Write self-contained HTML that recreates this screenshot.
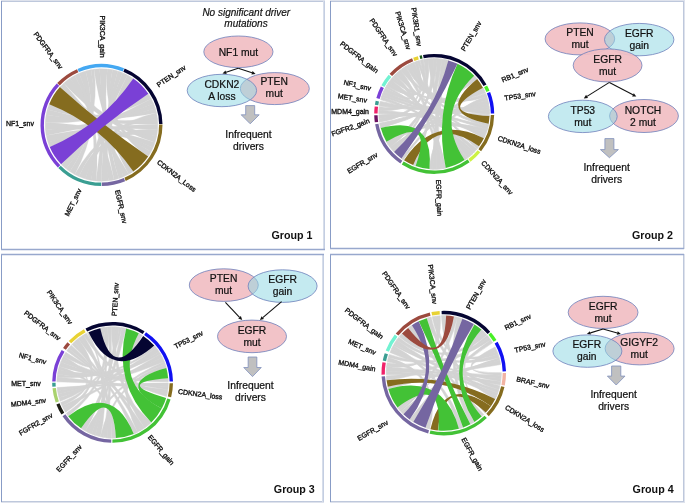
<!DOCTYPE html><html><head><meta charset="utf-8"><style>html,body{margin:0;padding:0;background:#fff;}body{width:685px;height:503px;overflow:hidden;}svg{display:block;font-family:"Liberation Sans",sans-serif;filter:blur(0.3px);}</style></head><body>
<svg width="685" height="503" viewBox="0 0 685 503">
<rect x="0" y="0" width="685" height="503" fill="#fff"/>
<rect x="1" y="0" width="324" height="1" fill="rgb(222,226,236)"/>
<rect x="1" y="1" width="324" height="1" fill="rgb(190,200,220)"/>
<rect x="330" y="0" width="355" height="1" fill="rgb(222,226,236)"/>
<rect x="330" y="1" width="355" height="1" fill="rgb(190,200,220)"/>
<rect x="1" y="501" width="323" height="1" fill="rgb(190,200,220)"/>
<rect x="1" y="502" width="323" height="1" fill="rgb(222,226,236)"/>
<rect x="330" y="501" width="355" height="1" fill="rgb(190,200,220)"/>
<rect x="330" y="502" width="355" height="1" fill="rgb(222,226,236)"/>
<rect x="1" y="1" width="1" height="249" fill="rgb(136,156,198)"/>
<rect x="1" y="254" width="1" height="248" fill="rgb(136,156,198)"/>
<rect x="330" y="1" width="1" height="248" fill="rgb(136,156,198)"/>
<rect x="330" y="254" width="1" height="248" fill="rgb(136,156,198)"/>
<rect x="683" y="1" width="1" height="248" fill="rgb(190,200,220)"/>
<rect x="684" y="0" width="1" height="249" fill="rgb(222,226,236)"/>
<rect x="683" y="254" width="1" height="248" fill="rgb(190,200,220)"/>
<rect x="684" y="254" width="1" height="249" fill="rgb(222,226,236)"/>
<rect x="323" y="1" width="1" height="249" fill="rgb(214,221,234)"/>
<rect x="324" y="1" width="1" height="249" fill="rgb(196,206,226)"/>
<rect x="322" y="254" width="1" height="248" fill="rgb(214,221,234)"/>
<rect x="323" y="254" width="1" height="248" fill="rgb(196,206,226)"/>
<line x1="1" y1="249.45" x2="325" y2="249.45" stroke="rgb(152,168,205)" stroke-width="1.4"/>
<line x1="330" y1="248.5" x2="684" y2="248.5" stroke="rgb(152,168,205)" stroke-width="1.4"/>
<line x1="1" y1="254.45" x2="324" y2="254.45" stroke="rgb(152,168,205)" stroke-width="1.4"/>
<line x1="330" y1="254.45" x2="684" y2="254.45" stroke="rgb(152,168,205)" stroke-width="1.4"/>
<g fill="#000">
<g stroke="#d3d3d3" stroke-width="0.3">
<path d="M79.14 73.33A56.3 56.3 0 0 1 85.57 71Q101.5 125 69.84 171.55A56.3 56.3 0 0 1 66.09 168.77Q101.5 125 79.14 73.33Z" fill="#d3d3d3"/>
<path d="M60.39 86.53A56.3 56.3 0 0 1 63.86 83.13Q101.5 125 128.71 174.29A56.3 56.3 0 0 1 123.59 176.79Q101.5 125 60.39 86.53Z" fill="#d3d3d3"/>
<path d="M153.04 147.66A56.3 56.3 0 0 1 151.05 151.73Q101.5 125 59.86 87.11A56.3 56.3 0 0 1 60.39 86.53Q101.5 125 153.04 147.66Z" fill="#d3d3d3"/>
<path d="M94.02 69.2A56.3 56.3 0 0 1 99.66 68.73Q101.5 125 133.31 171.45A56.3 56.3 0 0 1 128.71 174.29Q101.5 125 94.02 69.2Z" fill="#d3d3d3"/>
<path d="M85.57 71A56.3 56.3 0 0 1 90.97 69.69Q101.5 125 74.68 174.5A56.3 56.3 0 0 1 69.84 171.55Q101.5 125 85.57 71Z" fill="#d3d3d3"/>
<path d="M45.42 129.97A56.3 56.3 0 0 1 45.25 122.51Q101.5 125 155.02 142.47A56.3 56.3 0 0 1 153.04 147.66Q101.5 125 45.42 129.97Z" fill="#d3d3d3"/>
<path d="M90.97 69.69A56.3 56.3 0 0 1 94.02 69.2Q101.5 125 66.09 168.77A56.3 56.3 0 0 1 61.41 164.53Q101.5 125 90.97 69.69Z" fill="#d3d3d3"/>
<path d="M112.55 69.8A56.3 56.3 0 0 1 117.78 71.1Q101.5 125 123.59 176.79A56.3 56.3 0 0 1 118.89 178.55Q101.5 125 112.55 69.8Z" fill="#d3d3d3"/>
<path d="M157.8 124.31A56.3 56.3 0 0 1 157.6 129.69Q101.5 125 48.02 142.61A56.3 56.3 0 0 1 46.21 135.61Q101.5 125 157.8 124.31Z" fill="#d3d3d3"/>
<path d="M155.35 108.56A56.3 56.3 0 0 1 156.44 112.68Q101.5 125 47.34 109.62A56.3 56.3 0 0 1 49.19 104.18Q101.5 125 155.35 108.56Z" fill="#d3d3d3"/>
<path d="M114.06 179.88A56.3 56.3 0 0 1 108.5 180.86Q101.5 125 70.02 78.32A56.3 56.3 0 0 1 74.72 75.48Q101.5 125 114.06 179.88Z" fill="#d3d3d3"/>
<path d="M153.55 103.54A56.3 56.3 0 0 1 155.35 108.56Q101.5 125 46.21 135.61A56.3 56.3 0 0 1 45.42 129.97Q101.5 125 153.55 103.54Z" fill="#d3d3d3"/>
<path d="M99.66 68.73A56.3 56.3 0 0 1 107.31 69Q101.5 125 118.89 178.55A56.3 56.3 0 0 1 114.06 179.88Q101.5 125 99.66 68.73Z" fill="#d3d3d3"/>
<path d="M127.59 75.11A56.3 56.3 0 0 1 133.31 78.55Q101.5 125 108.5 180.86A56.3 56.3 0 0 1 101.5 181.3Q101.5 125 127.59 75.11Z" fill="#d3d3d3"/>
<path d="M90.92 180.3A56.3 56.3 0 0 1 85.34 178.93Q101.5 125 122.59 72.8A56.3 56.3 0 0 1 127.59 75.11Q101.5 125 90.92 180.3Z" fill="#d3d3d3"/>
<path d="M107.31 69A56.3 56.3 0 0 1 112.55 69.8Q101.5 125 151.05 151.73A56.3 56.3 0 0 1 148.17 156.48Q101.5 125 107.31 69Z" fill="#d3d3d3"/>
<path d="M45.25 122.51A56.3 56.3 0 0 1 46.14 114.74Q101.5 125 148.34 93.76A56.3 56.3 0 0 1 151.25 98.65Q101.5 125 45.25 122.51Z" fill="#d3d3d3"/>
<path d="M117.78 71.1A56.3 56.3 0 0 1 122.59 72.8Q101.5 125 101.5 181.3A56.3 56.3 0 0 1 96.03 181.03Q101.5 125 117.78 71.1Z" fill="#d3d3d3"/>
<path d="M49.71 147.09A56.3 56.3 0 0 1 48.02 142.61Q101.5 125 151.25 98.65A56.3 56.3 0 0 1 153.55 103.54Q101.5 125 49.71 147.09Z" fill="#d3d3d3"/>
<path d="M156.67 136.24A56.3 56.3 0 0 1 155.02 142.47Q101.5 125 63.86 83.13A56.3 56.3 0 0 1 70.02 78.32Q101.5 125 156.67 136.24Z" fill="#d3d3d3"/>
<path d="M156.44 112.68A56.3 56.3 0 0 1 157.45 118.73Q101.5 125 78.77 176.51A56.3 56.3 0 0 1 74.68 174.5Q101.5 125 156.44 112.68Z" fill="#d3d3d3"/>
<path d="M46.14 114.74A56.3 56.3 0 0 1 47.34 109.62Q101.5 125 157.45 118.73A56.3 56.3 0 0 1 157.8 124.31Q101.5 125 46.14 114.74Z" fill="#d3d3d3"/>
<path d="M157.6 129.69A56.3 56.3 0 0 1 156.67 136.24Q101.5 125 85.34 178.93A56.3 56.3 0 0 1 78.77 176.51Q101.5 125 157.6 129.69Z" fill="#d3d3d3"/>
<path d="M96.03 181.03A56.3 56.3 0 0 1 90.92 180.3Q101.5 125 74.72 75.48A56.3 56.3 0 0 1 79.14 73.33Q101.5 125 96.03 181.03Z" fill="#d3d3d3"/>
</g>
<path d="M49.19 104.18A56.3 56.3 0 0 1 59.86 87.11Q101.5 125 148.17 156.48A56.3 56.3 0 0 1 133.31 171.45Q101.5 125 49.19 104.18Z" fill="#856c1f"/>
<path d="M61.07 164.18A56.3 56.3 0 0 1 49.71 147.09Q101.5 125 133.31 78.55A56.3 56.3 0 0 1 148.34 93.76Q101.5 125 61.07 164.18Z" fill="#7a40d6"/>
<path d="M77.57 68.89A61 61 0 0 1 124.05 68.32L122.8 71.48A57.6 57.6 0 0 0 78.9 72.02Z" fill="#44a8f2"/>
<path d="M124.65 68.56A61 61 0 0 1 162.49 123.94L159.09 123.99A57.6 57.6 0 0 0 123.36 71.71Z" fill="#050532"/>
<path d="M162.5 124.57A61 61 0 0 1 125.73 180.98L124.38 177.86A57.6 57.6 0 0 0 159.1 124.6Z" fill="#856c1f"/>
<path d="M125.14 181.23A61 61 0 0 1 101.82 186L101.8 182.6A57.6 57.6 0 0 0 123.82 178.1Z" fill="#7566a1"/>
<path d="M101.18 186A61 61 0 0 1 58.29 168.06L60.7 165.66A57.6 57.6 0 0 0 101.2 182.6Z" fill="#3a9e92"/>
<path d="M57.84 167.6A61 61 0 0 1 56.74 83.55L59.24 85.86A57.6 57.6 0 0 0 60.28 165.23Z" fill="#7a40d6"/>
<path d="M57.18 83.09A61 61 0 0 1 76.98 69.14L78.35 72.26A57.6 57.6 0 0 0 59.65 85.42Z" fill="#9c4a3e"/>
<text x="102" y="57.6" dy="2.5" transform="rotate(90 102 57.6)" text-anchor="end" font-size="7.0" stroke="#1a1a1a" stroke-width="0.35">PIK3CA_gain</text>
<text x="61.4" y="68.1" dy="2.5" transform="rotate(53.5 61.4 68.1)" text-anchor="end" font-size="7.0" stroke="#1a1a1a" stroke-width="0.35">PDGFRA_snv</text>
<text x="157.3" y="85.4" dy="2.5" transform="rotate(-34 157.3 85.4)" text-anchor="start" font-size="7.0" stroke="#1a1a1a" stroke-width="0.35">PTEN_snv</text>
<text x="158.1" y="161.3" dy="2.5" transform="rotate(38 158.1 161.3)" text-anchor="start" font-size="7.0" stroke="#1a1a1a" stroke-width="0.35">CDKN2A_Loss</text>
<text x="117.5" y="190" dy="2.5" transform="rotate(77.3 117.5 190)" text-anchor="start" font-size="7.0" stroke="#1a1a1a" stroke-width="0.35">EGFR_snv</text>
<text x="79.5" y="189" dy="2.5" transform="rotate(-64 79.5 189)" text-anchor="end" font-size="7.0" stroke="#1a1a1a" stroke-width="0.35">MET_snv</text>
<text x="34" y="123.65" dy="2.5" transform="rotate(0 34 123.65)" text-anchor="end" font-size="7.0" stroke="#1a1a1a" stroke-width="0.35">NF1_snv</text>
<g stroke="#d3d3d3" stroke-width="0.8">
<path d="M474.18 75.69A55.3 55.3 0 0 1 477.18 79.1Q434.2 113.9 380.73 128.03A55.3 55.3 0 0 1 379.69 123.22Q434.2 113.9 474.18 75.69Z" fill="#d3d3d3"/>
<path d="M484.87 136.06A55.3 55.3 0 0 1 483.9 138.14Q434.2 113.9 395.28 74.61A55.3 55.3 0 0 1 397.06 72.93Q434.2 113.9 484.87 136.06Z" fill="#d3d3d3"/>
<path d="M482.94 87.77A55.3 55.3 0 0 1 484.27 90.43Q434.2 113.9 403.28 159.75A55.3 55.3 0 0 1 401.46 158.47Q434.2 113.9 482.94 87.77Z" fill="#d3d3d3"/>
<path d="M431.5 58.67A55.3 55.3 0 0 1 433.47 58.6Q434.2 113.9 394.02 151.9A55.3 55.3 0 0 1 392.07 149.72Q434.2 113.9 431.5 58.67Z" fill="#d3d3d3"/>
<path d="M387.7 143.84A55.3 55.3 0 0 1 386.36 141.63Q434.2 113.9 487.26 129.47A55.3 55.3 0 0 1 486.15 132.84Q434.2 113.9 387.7 143.84Z" fill="#d3d3d3"/>
<path d="M437.07 58.67A55.3 55.3 0 0 1 441.94 59.14Q434.2 113.9 415.65 166A55.3 55.3 0 0 1 413.13 165.03Q434.2 113.9 437.07 58.67Z" fill="#d3d3d3"/>
<path d="M487.81 100.33A55.3 55.3 0 0 1 488.55 103.72Q434.2 113.9 392.07 149.72A55.3 55.3 0 0 1 390.01 147.14Q434.2 113.9 487.81 100.33Z" fill="#d3d3d3"/>
<path d="M417.33 61.24A55.3 55.3 0 0 1 419.42 60.61Q434.2 113.9 470.04 156.02A55.3 55.3 0 0 1 467.4 158.12Q434.2 113.9 417.33 61.24Z" fill="#d3d3d3"/>
<path d="M433.47 58.6A55.3 55.3 0 0 1 437.07 58.67Q434.2 113.9 390.01 147.14A55.3 55.3 0 0 1 387.7 143.84Q434.2 113.9 433.47 58.6Z" fill="#d3d3d3"/>
<path d="M423.65 59.62A55.3 55.3 0 0 1 427.96 58.95Q434.2 113.9 379.49 121.98A55.3 55.3 0 0 1 379.09 118.43Q434.2 113.9 423.65 59.62Z" fill="#d3d3d3"/>
<path d="M441.94 59.14A55.3 55.3 0 0 1 445.27 59.72Q434.2 113.9 436.81 169.14A55.3 55.3 0 0 1 432.81 169.18Q434.2 113.9 441.94 59.14Z" fill="#d3d3d3"/>
<path d="M427.96 58.95A55.3 55.3 0 0 1 431.5 58.67Q434.2 113.9 467.09 158.35A55.3 55.3 0 0 1 464.56 160.12Q434.2 113.9 427.96 58.95Z" fill="#d3d3d3"/>
<path d="M411.42 63.51A55.3 55.3 0 0 1 414.02 62.41Q434.2 113.9 479 146.33A55.3 55.3 0 0 1 477.24 148.63Q434.2 113.9 411.42 63.51Z" fill="#d3d3d3"/>
<path d="M486.69 96.49A55.3 55.3 0 0 1 487.81 100.33Q434.2 113.9 432.81 169.18A55.3 55.3 0 0 1 429.48 169Q434.2 113.9 486.69 96.49Z" fill="#d3d3d3"/>
<path d="M388.66 82.52A55.3 55.3 0 0 1 390.97 79.42Q434.2 113.9 472.35 153.93A55.3 55.3 0 0 1 470.04 156.02Q434.2 113.9 388.66 82.52Z" fill="#d3d3d3"/>
<path d="M445.27 59.72A55.3 55.3 0 0 1 448.33 60.43Q434.2 113.9 440.07 168.89A55.3 55.3 0 0 1 436.81 169.14Q434.2 113.9 445.27 59.72Z" fill="#d3d3d3"/>
<path d="M381.52 97.08A55.3 55.3 0 0 1 382.4 94.53Q434.2 113.9 488.03 126.58A55.3 55.3 0 0 1 487.26 129.47Q434.2 113.9 381.52 97.08Z" fill="#d3d3d3"/>
<path d="M488.55 103.72A55.3 55.3 0 0 1 489.08 107.11Q434.2 113.9 379.09 118.43A55.3 55.3 0 0 1 378.91 114.96Q434.2 113.9 488.55 103.72Z" fill="#d3d3d3"/>
<path d="M474.2 152.08A55.3 55.3 0 0 1 472.35 153.93Q434.2 113.9 380.78 99.59A55.3 55.3 0 0 1 381.52 97.08Q434.2 113.9 474.2 152.08Z" fill="#d3d3d3"/>
<path d="M390.97 79.42A55.3 55.3 0 0 1 392.46 77.62Q434.2 113.9 484.27 90.43A55.3 55.3 0 0 1 485.29 92.74Q434.2 113.9 390.97 79.42Z" fill="#d3d3d3"/>
<path d="M489.49 114.67A55.3 55.3 0 0 1 489.46 116.02Q434.2 113.9 382.4 94.53A55.3 55.3 0 0 1 383.72 91.32Q434.2 113.9 489.49 114.67Z" fill="#d3d3d3"/>
<path d="M392.85 77.18A55.3 55.3 0 0 1 395.28 74.61Q434.2 113.9 442.94 168.5A55.3 55.3 0 0 1 440.07 168.89Q434.2 113.9 392.85 77.18Z" fill="#d3d3d3"/>
<path d="M402.96 68.27A55.3 55.3 0 0 1 405.61 66.56Q434.2 113.9 445.79 167.97A55.3 55.3 0 0 1 442.94 168.5Q434.2 113.9 402.96 68.27Z" fill="#d3d3d3"/>
<path d="M385.42 87.85A55.3 55.3 0 0 1 386.67 85.63Q434.2 113.9 476.87 149.08A55.3 55.3 0 0 1 474.2 152.08Q434.2 113.9 385.42 87.85Z" fill="#d3d3d3"/>
<path d="M408.7 64.83A55.3 55.3 0 0 1 411.42 63.51Q434.2 113.9 489.35 109.84A55.3 55.3 0 0 1 489.5 113.9Q434.2 113.9 408.7 64.83Z" fill="#d3d3d3"/>
<path d="M486.15 132.84A55.3 55.3 0 0 1 484.87 136.06Q434.2 113.9 378.9 113.8A55.3 55.3 0 0 1 379.03 110.13Q434.2 113.9 486.15 132.84Z" fill="#d3d3d3"/>
<path d="M489.08 107.11A55.3 55.3 0 0 1 489.35 109.84Q434.2 113.9 379.51 105.73A55.3 55.3 0 0 1 380.32 101.46Q434.2 113.9 489.08 107.11Z" fill="#d3d3d3"/>
<path d="M405.61 66.56A55.3 55.3 0 0 1 408.7 64.83Q434.2 113.9 488.63 123.69A55.3 55.3 0 0 1 488.03 126.58Q434.2 113.9 405.61 66.56Z" fill="#d3d3d3"/>
<path d="M400.45 70.09A55.3 55.3 0 0 1 402.96 68.27Q434.2 113.9 485.62 93.54A55.3 55.3 0 0 1 486.69 96.49Q434.2 113.9 400.45 70.09Z" fill="#d3d3d3"/>
<path d="M379.03 110.13A55.3 55.3 0 0 1 379.37 106.68Q434.2 113.9 414.56 62.2A55.3 55.3 0 0 1 417.33 61.24Q434.2 113.9 379.03 110.13Z" fill="#d3d3d3"/>
<path d="M397.06 72.93A55.3 55.3 0 0 1 400.45 70.09Q434.2 113.9 383.72 91.32A55.3 55.3 0 0 1 385.15 88.37Q434.2 113.9 397.06 72.93Z" fill="#d3d3d3"/>
<path d="M386.67 85.63A55.3 55.3 0 0 1 388.66 82.52Q434.2 113.9 420.35 60.36A55.3 55.3 0 0 1 423.08 59.73Q434.2 113.9 386.67 85.63Z" fill="#d3d3d3"/>
</g>
<path d="M413.13 165.03A55.3 55.3 0 0 1 404 160.23Q434.2 113.9 483.9 138.14A55.3 55.3 0 0 1 479 146.33Q434.2 113.9 413.13 165.03Z" fill="#856c1f"/>
<path d="M477.18 79.1A55.3 55.3 0 0 1 482.94 87.77Q434.2 113.9 489.46 116.02A55.3 55.3 0 0 1 488.63 123.69Q434.2 113.9 477.18 79.1Z" fill="#856c1f"/>
<path d="M386.36 141.63A55.3 55.3 0 0 1 380.73 128.03Q434.2 113.9 429.48 169A55.3 55.3 0 0 1 415.65 166Q434.2 113.9 386.36 141.63Z" fill="#43c236"/>
<path d="M457.48 63.74A55.3 55.3 0 0 1 474.18 75.69Q434.2 113.9 464.56 160.12A55.3 55.3 0 0 1 445.79 167.97Q434.2 113.9 457.48 63.74Z" fill="#43c236"/>
<path d="M401.46 158.47A55.3 55.3 0 0 1 394.02 151.9Q434.2 113.9 448.33 60.43A55.3 55.3 0 0 1 457.48 63.74Q434.2 113.9 401.46 158.47Z" fill="#7566a1"/>
<path d="M423.06 54.94A60 60 0 0 1 486.47 84.45L483.51 86.11A56.6 56.6 0 0 0 423.69 58.28Z" fill="#050532"/>
<path d="M487.08 85.55A60 60 0 0 1 489.51 90.65L486.38 91.97A56.6 56.6 0 0 0 484.08 87.15Z" fill="#48f026"/>
<path d="M490.1 92.1A60 60 0 0 1 494.2 113.59L490.8 113.6A56.6 56.6 0 0 0 486.93 93.34Z" fill="#1010f2"/>
<path d="M494.19 115.05A60 60 0 0 1 481.09 151.33L478.43 149.21A56.6 56.6 0 0 0 490.79 114.99Z" fill="#856c1f"/>
<path d="M480.3 152.31A60 60 0 0 1 470.48 161.69L468.42 158.98A56.6 56.6 0 0 0 477.68 150.13Z" fill="#cdf244"/>
<path d="M469.64 162.32A60 60 0 0 1 401.79 164.39L403.62 161.53A56.6 56.6 0 0 0 467.63 159.57Z" fill="#43c236"/>
<path d="M400.39 163.47A60 60 0 0 1 375.11 124.32L378.46 123.73A56.6 56.6 0 0 0 402.3 160.66Z" fill="#7566a1"/>
<path d="M374.8 122.35A60 60 0 0 1 374.22 115.37L377.62 115.28A56.6 56.6 0 0 0 378.16 121.88Z" fill="#6c1262"/>
<path d="M374.2 113.48A60 60 0 0 1 374.67 106.38L378.05 106.81A56.6 56.6 0 0 0 377.6 113.5Z" fill="#f0226a"/>
<path d="M374.91 104.72A60 60 0 0 1 375.67 100.71L378.98 101.46A56.6 56.6 0 0 0 378.27 105.24Z" fill="#3a9e92"/>
<path d="M376.33 98.07A60 60 0 0 1 380.84 86.47L383.86 88.03A56.6 56.6 0 0 0 379.61 98.96Z" fill="#7a40d6"/>
<path d="M381.42 85.36A60 60 0 0 1 388.71 74.77L391.29 76.99A56.6 56.6 0 0 0 384.41 86.98Z" fill="#72f2d2"/>
<path d="M389.54 73.83A60 60 0 0 1 412.02 58.15L413.27 61.31A56.6 56.6 0 0 0 392.07 76.1Z" fill="#9c4a3e"/>
<path d="M413.19 57.7A60 60 0 0 1 417.86 56.17L418.79 59.44A56.6 56.6 0 0 0 414.38 60.88Z" fill="#e8d234"/>
<path d="M419.48 55.73A60 60 0 0 1 421.83 55.19L422.53 58.52A56.6 56.6 0 0 0 420.32 59.03Z" fill="#1c5c1c"/>
<text x="396" y="55.5" dy="2.5" transform="rotate(56 396 55.5)" text-anchor="end" font-size="7.0" stroke="#1a1a1a" stroke-width="0.35">PDGFRA_snv</text>
<text x="377.5" y="71.5" dy="2.5" transform="rotate(38.3 377.5 71.5)" text-anchor="end" font-size="7.0" stroke="#1a1a1a" stroke-width="0.35">PDGFRA_gain</text>
<text x="409" y="49.5" dy="2.5" transform="rotate(73.2 409 49.5)" text-anchor="end" font-size="7.0" stroke="#1a1a1a" stroke-width="0.35">PIK3CA_snv</text>
<text x="419.5" y="46.2" dy="2.5" transform="rotate(81.5 419.5 46.2)" text-anchor="end" font-size="7.0" stroke="#1a1a1a" stroke-width="0.35">PIK3R1_snv</text>
<text x="462.5" y="50.5" dy="2.5" transform="rotate(-59.2 462.5 50.5)" text-anchor="start" font-size="7.0" stroke="#1a1a1a" stroke-width="0.35">PTEN_snv</text>
<text x="501.8" y="80.2" dy="2.5" transform="rotate(-23.1 501.8 80.2)" text-anchor="start" font-size="7.0" stroke="#1a1a1a" stroke-width="0.35">RB1_snv</text>
<text x="504.5" y="98" dy="2.5" transform="rotate(-8 504.5 98)" text-anchor="start" font-size="7.0" stroke="#1a1a1a" stroke-width="0.35">TP53_snv</text>
<text x="498" y="137.9" dy="2.5" transform="rotate(18 498 137.9)" text-anchor="start" font-size="7.0" stroke="#1a1a1a" stroke-width="0.35">CDKN2A_loss</text>
<text x="482.6" y="161.65" dy="2.5" transform="rotate(47.7 482.6 161.65)" text-anchor="start" font-size="7.0" stroke="#1a1a1a" stroke-width="0.35">CDKN2A_snv</text>
<text x="438.6" y="179.6" dy="2.5" transform="rotate(88 438.6 179.6)" text-anchor="start" font-size="7.0" stroke="#1a1a1a" stroke-width="0.35">EGFR_gain</text>
<text x="377" y="154" dy="2.5" transform="rotate(-31 377 154)" text-anchor="end" font-size="7.0" stroke="#1a1a1a" stroke-width="0.35">EGFR_snv</text>
<text x="369.3" y="120.4" dy="2.5" transform="rotate(-20 369.3 120.4)" text-anchor="end" font-size="7.0" stroke="#1a1a1a" stroke-width="0.35">FGFR2_gain</text>
<text x="369" y="111.05" dy="2.5" transform="rotate(0 369 111.05)" text-anchor="end" font-size="7.0" stroke="#1a1a1a" stroke-width="0.35">MDM4_gain</text>
<text x="367" y="100.3" dy="2.5" transform="rotate(8.7 367 100.3)" text-anchor="end" font-size="7.0" stroke="#1a1a1a" stroke-width="0.35">MET_snv</text>
<text x="371" y="88.5" dy="2.5" transform="rotate(13.5 371 88.5)" text-anchor="end" font-size="7.0" stroke="#1a1a1a" stroke-width="0.35">NF1_snv</text>
<g stroke="#d3d3d3" stroke-width="0.5">
<path d="M103.18 437.35A55.7 55.7 0 0 1 100.4 436.8Q112.6 382.45 165.28 364.37A55.7 55.7 0 0 1 166.38 367.94Q112.6 382.45 103.18 437.35Z" fill="#d3d3d3"/>
<path d="M88.44 432.64A55.7 55.7 0 0 1 85.32 431.01Q112.6 382.45 164.34 361.83A55.7 55.7 0 0 1 165.28 364.37Q112.6 382.45 88.44 432.64Z" fill="#d3d3d3"/>
<path d="M77.96 338.83A55.7 55.7 0 0 1 80.11 337.21Q112.6 382.45 144.57 428.06A55.7 55.7 0 0 1 140.6 430.6Q112.6 382.45 77.96 338.83Z" fill="#d3d3d3"/>
<path d="M160.49 354.01A55.7 55.7 0 0 1 162.25 357.2Q112.6 382.45 63.37 408.5A55.7 55.7 0 0 1 62.07 405.89Q112.6 382.45 160.49 354.01Z" fill="#d3d3d3"/>
<path d="M58.4 369.6A55.7 55.7 0 0 1 59.23 366.5Q112.6 382.45 115.9 438.05A55.7 55.7 0 0 1 112.11 438.15Q112.6 382.45 58.4 369.6Z" fill="#d3d3d3"/>
<path d="M71.93 344.39A55.7 55.7 0 0 1 74.15 342.15Q112.6 382.45 137.53 432.26A55.7 55.7 0 0 1 133.74 433.98Q112.6 382.45 71.93 344.39Z" fill="#d3d3d3"/>
<path d="M57.51 374.2A55.7 55.7 0 0 1 58.4 369.6Q112.6 382.45 159.11 351.8A55.7 55.7 0 0 1 160.49 354.01Q112.6 382.45 57.51 374.2Z" fill="#d3d3d3"/>
<path d="M60.19 401.32A55.7 55.7 0 0 1 59 397.6Q112.6 382.45 119.06 327.13A55.7 55.7 0 0 1 121.72 327.5Q112.6 382.45 60.19 401.32Z" fill="#d3d3d3"/>
<path d="M58.09 393.9A55.7 55.7 0 0 1 57.52 390.72Q112.6 382.45 162.25 357.2A55.7 55.7 0 0 1 164.34 361.83Q112.6 382.45 58.09 393.9Z" fill="#d3d3d3"/>
<path d="M66.75 350.82A55.7 55.7 0 0 1 68.49 348.44Q112.6 382.45 151.29 422.52A55.7 55.7 0 0 1 148.71 424.86Q112.6 382.45 66.75 350.82Z" fill="#d3d3d3"/>
<path d="M138.84 333.32A55.7 55.7 0 0 1 142.28 335.32Q112.6 382.45 140.6 430.6A55.7 55.7 0 0 1 137.53 432.26Q112.6 382.45 138.84 333.32Z" fill="#d3d3d3"/>
<path d="M115.29 326.82A55.7 55.7 0 0 1 119.06 327.13Q112.6 382.45 85.32 431.01A55.7 55.7 0 0 1 81.05 428.35Q112.6 382.45 115.29 326.82Z" fill="#d3d3d3"/>
<path d="M107.08 437.88A55.7 55.7 0 0 1 103.18 437.35Q112.6 382.45 107.72 326.96A55.7 55.7 0 0 1 111.12 326.77Q112.6 382.45 107.08 437.88Z" fill="#d3d3d3"/>
<path d="M59.23 366.5A55.7 55.7 0 0 1 60.82 361.91Q112.6 382.45 168.14 378.18A55.7 55.7 0 0 1 168.3 381.77Q112.6 382.45 59.23 366.5Z" fill="#d3d3d3"/>
<path d="M56.9 381.77A55.7 55.7 0 0 1 57.16 377.06Q112.6 382.45 167.82 389.73A55.7 55.7 0 0 1 167.22 393.38Q112.6 382.45 56.9 381.77Z" fill="#d3d3d3"/>
<path d="M83.46 334.98A55.7 55.7 0 0 1 86.45 333.27Q112.6 382.45 167.22 393.38A55.7 55.7 0 0 1 166.5 396.49Q112.6 382.45 83.46 334.98Z" fill="#d3d3d3"/>
<path d="M154.25 345.47A55.7 55.7 0 0 1 156.05 347.6Q112.6 382.45 57.16 377.06A55.7 55.7 0 0 1 57.51 374.2Q112.6 382.45 154.25 345.47Z" fill="#d3d3d3"/>
<path d="M87.4 332.78A55.7 55.7 0 0 1 88.53 332.22Q112.6 382.45 100.4 436.8A55.7 55.7 0 0 1 95.12 435.34Q112.6 382.45 87.4 332.78Z" fill="#d3d3d3"/>
<path d="M95.12 435.34A55.7 55.7 0 0 1 91.62 434.05Q112.6 382.45 100.26 328.13A55.7 55.7 0 0 1 103.44 327.51Q112.6 382.45 95.12 435.34Z" fill="#d3d3d3"/>
<path d="M68.23 416.13A55.7 55.7 0 0 1 66.26 413.35Q112.6 382.45 103.44 327.51A55.7 55.7 0 0 1 107.72 326.96Q112.6 382.45 68.23 416.13Z" fill="#d3d3d3"/>
<path d="M60.82 361.91A55.7 55.7 0 0 1 62.34 358.44Q112.6 382.45 168.12 386.93A55.7 55.7 0 0 1 167.82 389.73Q112.6 382.45 60.82 361.91Z" fill="#d3d3d3"/>
<path d="M59 397.6A55.7 55.7 0 0 1 58.09 393.9Q112.6 382.45 156.05 347.6A55.7 55.7 0 0 1 159.11 351.8Q112.6 382.45 59 397.6Z" fill="#d3d3d3"/>
<path d="M111.63 438.14A55.7 55.7 0 0 1 107.08 437.88Q112.6 382.45 80.11 337.21A55.7 55.7 0 0 1 83.46 334.98Q112.6 382.45 111.63 438.14Z" fill="#d3d3d3"/>
<path d="M111.12 326.77A55.7 55.7 0 0 1 115.29 326.82Q112.6 382.45 148.71 424.86A55.7 55.7 0 0 1 144.57 428.06Q112.6 382.45 111.12 326.77Z" fill="#d3d3d3"/>
<path d="M121.72 327.5A55.7 55.7 0 0 1 126.17 328.43Q112.6 382.45 91.62 434.05A55.7 55.7 0 0 1 88.44 432.64Q112.6 382.45 121.72 327.5Z" fill="#d3d3d3"/>
<path d="M57.52 390.72A55.7 55.7 0 0 1 57.14 387.6Q112.6 382.45 168.3 382.94A55.7 55.7 0 0 1 168.12 386.93Q112.6 382.45 57.52 390.72Z" fill="#d3d3d3"/>
<path d="M74.15 342.15A55.7 55.7 0 0 1 77.96 338.83Q112.6 382.45 65.52 412.21A55.7 55.7 0 0 1 63.37 408.5Q112.6 382.45 74.15 342.15Z" fill="#d3d3d3"/>
<path d="M63.41 356.32A55.7 55.7 0 0 1 65.78 352.28Q112.6 382.45 68.49 348.44A55.7 55.7 0 0 1 71.21 345.18Q112.6 382.45 63.41 356.32Z" fill="#d3d3d3"/>
<path d="M62.07 405.89A55.7 55.7 0 0 1 60.63 402.5Q112.6 382.45 62.34 358.44A55.7 55.7 0 0 1 63.41 356.32Q112.6 382.45 62.07 405.89Z" fill="#d3d3d3"/>
</g>
<path d="M166.38 367.94A55.7 55.7 0 0 1 168.14 378.18Q112.6 382.45 166.12 397.9A55.7 55.7 0 0 1 161.78 408.6Q112.6 382.45 166.38 367.94Z" fill="#43c236"/>
<path d="M126.17 328.43A55.7 55.7 0 0 1 138.84 333.32Q112.6 382.45 161.78 408.6A55.7 55.7 0 0 1 151.29 422.52Q112.6 382.45 126.17 328.43Z" fill="#43c236"/>
<path d="M81.05 428.35A55.7 55.7 0 0 1 68.23 416.13Q112.6 382.45 133.74 433.98A55.7 55.7 0 0 1 115.9 438.05Q112.6 382.45 81.05 428.35Z" fill="#43c236"/>
<path d="M88.53 332.22A55.7 55.7 0 0 1 100.26 328.13Q112.6 382.45 143.18 335.9A55.7 55.7 0 0 1 154.25 345.47Q112.6 382.45 88.53 332.22Z" fill="#050532"/>
<path d="M85.56 328.44A60.4 60.4 0 0 1 144.52 331.17L142.72 334.06A57 57 0 0 0 87.08 331.48Z" fill="#050532"/>
<path d="M146.02 332.14A60.4 60.4 0 0 1 172.99 381.4L169.59 381.46A57 57 0 0 0 144.14 334.97Z" fill="#1010f2"/>
<path d="M172.99 383.29A60.4 60.4 0 0 1 171.13 397.37L167.83 396.53A57 57 0 0 0 169.59 383.25Z" fill="#856c1f"/>
<path d="M170.57 399.4A60.4 60.4 0 0 1 112.39 442.85L112.4 439.45A57 57 0 0 0 167.31 398.45Z" fill="#43c236"/>
<path d="M111.23 442.83A60.4 60.4 0 0 1 62.53 416.23L65.34 414.32A57 57 0 0 0 111.31 439.44Z" fill="#7566a1"/>
<path d="M61.38 414.46A60.4 60.4 0 0 1 56.36 404.49L59.53 403.25A57 57 0 0 0 64.26 412.66Z" fill="#1e1e16"/>
<path d="M55.66 402.61A60.4 60.4 0 0 1 52.49 388.34L55.87 388.01A57 57 0 0 0 58.87 401.48Z" fill="#a9d26e"/>
<path d="M52.35 386.66A60.4 60.4 0 0 1 52.2 382.82L55.6 382.8A57 57 0 0 0 55.74 386.43Z" fill="#3a9e92"/>
<path d="M52.21 381.4A60.4 60.4 0 0 1 61.66 350L64.53 351.82A57 57 0 0 0 55.61 381.46Z" fill="#7a40d6"/>
<path d="M63.06 347.89A60.4 60.4 0 0 1 67.5 342.27L70.04 344.53A57 57 0 0 0 65.85 349.84Z" fill="#9c4a3e"/>
<path d="M68.71 340.95A60.4 60.4 0 0 1 83.97 329.27L85.58 332.26A57 57 0 0 0 71.19 343.29Z" fill="#e8d234"/>
<text x="71" y="323.5" dy="2.5" transform="rotate(55.6 71 323.5)" text-anchor="end" font-size="7.0" stroke="#1a1a1a" stroke-width="0.35">PIK3CA_snv</text>
<text x="59.8" y="339" dy="2.5" transform="rotate(38 59.8 339)" text-anchor="end" font-size="7.0" stroke="#1a1a1a" stroke-width="0.35">PDGFRA_snv</text>
<text x="114.1" y="316.2" dy="2.5" transform="rotate(-86.2 114.1 316.2)" text-anchor="start" font-size="7.0" stroke="#1a1a1a" stroke-width="0.35">PTEN_snv</text>
<text x="174.5" y="346.8" dy="2.5" transform="rotate(-27 174.5 346.8)" text-anchor="start" font-size="7.0" stroke="#1a1a1a" stroke-width="0.35">TP53_snv</text>
<text x="178" y="391.3" dy="2.5" transform="rotate(7.4 178 391.3)" text-anchor="start" font-size="7.0" stroke="#1a1a1a" stroke-width="0.35">CDKN2A_loss</text>
<text x="149.4" y="435.9" dy="2.5" transform="rotate(50.1 149.4 435.9)" text-anchor="start" font-size="7.0" stroke="#1a1a1a" stroke-width="0.35">EGFR_gain</text>
<text x="80.5" y="445.5" dy="2.5" transform="rotate(-47.8 80.5 445.5)" text-anchor="end" font-size="7.0" stroke="#1a1a1a" stroke-width="0.35">EGFR_snv</text>
<text x="52" y="414.5" dy="2.5" transform="rotate(-30.2 52 414.5)" text-anchor="end" font-size="7.0" stroke="#1a1a1a" stroke-width="0.35">FGFR2_snv</text>
<text x="46" y="400" dy="2.5" transform="rotate(-7.5 46 400)" text-anchor="end" font-size="7.0" stroke="#1a1a1a" stroke-width="0.35">MDM4_snv</text>
<text x="40.8" y="383.3" dy="2.5" transform="rotate(0 40.8 383.3)" text-anchor="end" font-size="7.0" stroke="#1a1a1a" stroke-width="0.35">MET_snv</text>
<text x="46.2" y="362" dy="2.5" transform="rotate(14.7 46.2 362)" text-anchor="end" font-size="7.0" stroke="#1a1a1a" stroke-width="0.35">NF1_snv</text>
<g stroke="#d3d3d3" stroke-width="0.5">
<path d="M391.6 348.7A57.6 57.6 0 0 1 393.21 345.52Q443.75 373.15 463.07 427.41A57.6 57.6 0 0 1 458.95 428.71Q443.75 373.15 391.6 348.7Z" fill="#d3d3d3"/>
<path d="M386.18 371.19A57.6 57.6 0 0 1 386.53 366.51Q443.75 373.15 501.31 375.23A57.6 57.6 0 0 1 501.13 378.21Q443.75 373.15 386.18 371.19Z" fill="#d3d3d3"/>
<path d="M386.6 380.37A57.6 57.6 0 0 1 386.22 375.96Q443.75 373.15 487.22 335.36A57.6 57.6 0 0 1 488.83 337.3Q443.75 373.15 386.6 380.37Z" fill="#d3d3d3"/>
<path d="M483.83 414.51A57.6 57.6 0 0 1 481.69 416.49Q443.75 373.15 408.13 327.88A57.6 57.6 0 0 1 411.87 325.17Q443.75 373.15 483.83 414.51Z" fill="#d3d3d3"/>
<path d="M403.45 414.3A57.6 57.6 0 0 1 401.02 411.77Q443.75 373.15 499.26 357.79A57.6 57.6 0 0 1 499.91 360.37Q443.75 373.15 403.45 414.3Z" fill="#d3d3d3"/>
<path d="M501.13 378.21A57.6 57.6 0 0 1 500.75 381.45Q443.75 373.15 393.21 345.52A57.6 57.6 0 0 1 394.26 343.68Q443.75 373.15 501.13 378.21Z" fill="#d3d3d3"/>
<path d="M394.26 343.68A57.6 57.6 0 0 1 396.67 339.96Q443.75 373.15 498.87 389.87A57.6 57.6 0 0 1 497.8 393.07Q443.75 373.15 394.26 343.68Z" fill="#d3d3d3"/>
<path d="M457.38 317.19A57.6 57.6 0 0 1 462.41 318.66Q443.75 373.15 474.44 421.89A57.6 57.6 0 0 1 470.35 424.24Q443.75 373.15 457.38 317.19Z" fill="#d3d3d3"/>
<path d="M387.29 361.76A57.6 57.6 0 0 1 388.28 357.62Q443.75 373.15 429.62 428.99A57.6 57.6 0 0 1 425.47 427.77Q443.75 373.15 387.29 361.76Z" fill="#d3d3d3"/>
<path d="M401.02 411.77A57.6 57.6 0 0 1 399.62 410.17Q443.75 373.15 473.76 323.99A57.6 57.6 0 0 1 474.53 324.46Q443.75 373.15 401.02 411.77Z" fill="#d3d3d3"/>
<path d="M481.39 329.55A57.6 57.6 0 0 1 484.09 332.03Q443.75 373.15 485.74 412.58A57.6 57.6 0 0 1 485.18 413.16Q443.75 373.15 481.39 329.55Z" fill="#d3d3d3"/>
<path d="M500.75 381.45A57.6 57.6 0 0 1 500.13 384.93Q443.75 373.15 386.18 374.86A57.6 57.6 0 0 1 386.18 371.19Q443.75 373.15 500.75 381.45Z" fill="#d3d3d3"/>
<path d="M453.95 316.46A57.6 57.6 0 0 1 457.38 317.19Q443.75 373.15 399.62 410.17A57.6 57.6 0 0 1 397.45 407.41Q443.75 373.15 453.95 316.46Z" fill="#d3d3d3"/>
<path d="M499.96 385.72A57.6 57.6 0 0 1 498.87 389.87Q443.75 373.15 426.72 318.13A57.6 57.6 0 0 1 431.09 316.96Q443.75 373.15 499.96 385.72Z" fill="#d3d3d3"/>
<path d="M490.59 339.63A57.6 57.6 0 0 1 492.65 342.71Q443.75 373.15 413.31 422.05A57.6 57.6 0 0 1 409.65 419.57Q443.75 373.15 490.59 339.63Z" fill="#d3d3d3"/>
<path d="M389.98 352.51A57.6 57.6 0 0 1 391.6 348.7Q443.75 373.15 497.8 393.07A57.6 57.6 0 0 1 496.49 396.32Q443.75 373.15 389.98 352.51Z" fill="#d3d3d3"/>
<path d="M499.91 360.37A57.6 57.6 0 0 1 500.7 364.53Q443.75 373.15 388.35 388.93A57.6 57.6 0 0 1 387.77 386.69Q443.75 373.15 499.91 360.37Z" fill="#d3d3d3"/>
<path d="M441.44 315.6A57.6 57.6 0 0 1 446.16 315.6Q443.75 373.15 496.49 396.32A57.6 57.6 0 0 1 495.21 399.03Q443.75 373.15 441.44 315.6Z" fill="#d3d3d3"/>
<path d="M435.59 316.13A57.6 57.6 0 0 1 440.23 315.66Q443.75 373.15 386.53 366.51A57.6 57.6 0 0 1 387.1 362.75Q443.75 373.15 435.59 316.13Z" fill="#d3d3d3"/>
<path d="M488.83 337.3A57.6 57.6 0 0 1 490.59 339.63Q443.75 373.15 388.28 357.62A57.6 57.6 0 0 1 389.29 354.4Q443.75 373.15 488.83 337.3Z" fill="#d3d3d3"/>
<path d="M484.09 332.03A57.6 57.6 0 0 1 486.89 334.98Q443.75 373.15 399.18 336.67A57.6 57.6 0 0 1 401.97 333.5Q443.75 373.15 484.09 332.03Z" fill="#d3d3d3"/>
<path d="M498.2 354.36A57.6 57.6 0 0 1 499.26 357.79Q443.75 373.15 396.67 339.96A57.6 57.6 0 0 1 398.67 337.29Q443.75 373.15 498.2 354.36Z" fill="#d3d3d3"/>
<path d="M496.98 351.14A57.6 57.6 0 0 1 498.2 354.36Q443.75 373.15 432.07 316.75A57.6 57.6 0 0 1 435.59 316.13Q443.75 373.15 496.98 351.14Z" fill="#d3d3d3"/>
<path d="M495.05 346.96A57.6 57.6 0 0 1 496.98 351.14Q443.75 373.15 501.35 372.65A57.6 57.6 0 0 1 501.31 375.23Q443.75 373.15 495.05 346.96Z" fill="#d3d3d3"/>
</g>
<path d="M387.77 386.69A57.6 57.6 0 0 1 386.6 380.37Q443.75 373.15 495.21 399.03A57.6 57.6 0 0 1 490.93 406.19Q443.75 373.15 387.77 386.69Z" fill="#856c1f"/>
<path d="M437.83 430.44A57.6 57.6 0 0 1 430.4 429.18Q443.75 373.15 490.93 406.19A57.6 57.6 0 0 1 485.74 412.58Q443.75 373.15 437.83 430.44Z" fill="#856c1f"/>
<path d="M397.45 407.41A57.6 57.6 0 0 1 388.35 388.93Q443.75 373.15 458.95 428.71A57.6 57.6 0 0 1 438.23 430.48Q443.75 373.15 397.45 407.41Z" fill="#43c236"/>
<path d="M474.53 324.46A57.6 57.6 0 0 1 481.39 329.55Q443.75 373.15 481.69 416.49A57.6 57.6 0 0 1 474.44 421.89Q443.75 373.15 474.53 324.46Z" fill="#43c236"/>
<path d="M418.77 321.25A57.6 57.6 0 0 1 426.72 318.13Q443.75 373.15 470.35 424.24A57.6 57.6 0 0 1 463.07 427.41Q443.75 373.15 418.77 321.25Z" fill="#43c236"/>
<path d="M411.87 325.17A57.6 57.6 0 0 1 418.77 321.25Q443.75 373.15 409.65 419.57A57.6 57.6 0 0 1 403.45 414.3Q443.75 373.15 411.87 325.17Z" fill="#7566a1"/>
<path d="M462.41 318.66A57.6 57.6 0 0 1 473.76 323.99Q443.75 373.15 425.47 427.77A57.6 57.6 0 0 1 413.31 422.05Q443.75 373.15 462.41 318.66Z" fill="#7566a1"/>
<path d="M401.97 333.5A57.6 57.6 0 0 1 408.13 327.88Q443.75 373.15 446.16 315.6A57.6 57.6 0 0 1 453.95 316.46Q443.75 373.15 401.97 333.5Z" fill="#9c4a3e"/>
<path d="M431.44 312.08A62.3 62.3 0 0 1 439.62 310.99L439.85 314.38A58.9 58.9 0 0 0 432.11 315.41Z" fill="#e8d234"/>
<path d="M441.58 310.89A62.3 62.3 0 0 1 490.19 331.63L487.66 333.89A58.9 58.9 0 0 0 441.69 314.29Z" fill="#050532"/>
<path d="M490.98 332.52A62.3 62.3 0 0 1 496.47 339.95L493.59 341.76A58.9 58.9 0 0 0 488.4 334.74Z" fill="#48f026"/>
<path d="M497.59 341.81A62.3 62.3 0 0 1 506.02 371.3L502.62 371.4A58.9 58.9 0 0 0 494.66 343.52Z" fill="#1010f2"/>
<path d="M506.05 372.93A62.3 62.3 0 0 1 504.8 385.57L501.47 384.89A58.9 58.9 0 0 0 502.65 372.94Z" fill="#f2b3a2"/>
<path d="M504.48 387.06A62.3 62.3 0 0 1 488.79 416.19L486.33 413.84A58.9 58.9 0 0 0 501.16 386.3Z" fill="#856c1f"/>
<path d="M486.87 418.12A62.3 62.3 0 0 1 429.63 433.83L430.4 430.52A58.9 58.9 0 0 0 484.52 415.66Z" fill="#43c236"/>
<path d="M428.15 433.47A62.3 62.3 0 0 1 381.54 376.52L384.94 376.34A58.9 58.9 0 0 0 429 430.17Z" fill="#7566a1"/>
<path d="M381.47 374.67A62.3 62.3 0 0 1 382.42 362.22L385.76 362.82A58.9 58.9 0 0 0 384.87 374.59Z" fill="#f0226a"/>
<path d="M382.74 360.52A62.3 62.3 0 0 1 384.74 353.18L387.96 354.27A58.9 58.9 0 0 0 386.07 361.21Z" fill="#3a9e92"/>
<path d="M385.71 350.52A62.3 62.3 0 0 1 394.79 334.62L397.46 336.73A58.9 58.9 0 0 0 388.87 351.75Z" fill="#72f2d2"/>
<path d="M395.75 333.44A62.3 62.3 0 0 1 429.74 312.45L430.5 315.76A58.9 58.9 0 0 0 398.37 335.61Z" fill="#9c4a3e"/>
<text x="408.8" y="308.2" dy="2.5" transform="rotate(55.3 408.8 308.2)" text-anchor="end" font-size="7.0" stroke="#1a1a1a" stroke-width="0.35">PDGFRA_snv</text>
<text x="382.5" y="337.5" dy="2.5" transform="rotate(37.5 382.5 337.5)" text-anchor="end" font-size="7.0" stroke="#1a1a1a" stroke-width="0.35">PDGFRA_gain</text>
<text x="435" y="304" dy="2.5" transform="rotate(83.5 435 304)" text-anchor="end" font-size="7.0" stroke="#1a1a1a" stroke-width="0.35">PIK3CA_snv</text>
<text x="467.9" y="308.8" dy="2.5" transform="rotate(-60.7 467.9 308.8)" text-anchor="start" font-size="7.0" stroke="#1a1a1a" stroke-width="0.35">PTEN_snv</text>
<text x="504.9" y="328" dy="2.5" transform="rotate(-25.3 504.9 328)" text-anchor="start" font-size="7.0" stroke="#1a1a1a" stroke-width="0.35">RB1_snv</text>
<text x="514.5" y="350.2" dy="2.5" transform="rotate(-11.4 514.5 350.2)" text-anchor="start" font-size="7.0" stroke="#1a1a1a" stroke-width="0.35">TP53_snv</text>
<text x="516.6" y="378.9" dy="2.5" transform="rotate(12.4 516.6 378.9)" text-anchor="start" font-size="7.0" stroke="#1a1a1a" stroke-width="0.35">BRAF_snv</text>
<text x="505.8" y="406.6" dy="2.5" transform="rotate(31.7 505.8 406.6)" text-anchor="start" font-size="7.0" stroke="#1a1a1a" stroke-width="0.35">CDKN2A_loss</text>
<text x="463.4" y="438.1" dy="2.5" transform="rotate(61 463.4 438.1)" text-anchor="start" font-size="7.0" stroke="#1a1a1a" stroke-width="0.35">EGFR_gain</text>
<text x="387.5" y="421.8" dy="2.5" transform="rotate(-29.6 387.5 421.8)" text-anchor="end" font-size="7.0" stroke="#1a1a1a" stroke-width="0.35">EGFR_snv</text>
<text x="375.5" y="369.1" dy="2.5" transform="rotate(10.8 375.5 369.1)" text-anchor="end" font-size="7.0" stroke="#1a1a1a" stroke-width="0.35">MDM4_gain</text>
<text x="375.8" y="352.8" dy="2.5" transform="rotate(23.5 375.8 352.8)" text-anchor="end" font-size="7.0" stroke="#1a1a1a" stroke-width="0.35">MET_snv</text>
</g>
<text x="246.3" y="16.1" text-anchor="middle" font-size="10" font-style="italic" fill="#111" stroke="#111" stroke-width="0.18">No significant driver</text>
<text x="246" y="27.1" text-anchor="middle" font-size="10" font-style="italic" fill="#111" stroke="#111" stroke-width="0.18">mutations</text>
<ellipse cx="238.4" cy="51.8" rx="34.6" ry="15.8" fill="rgb(241,190,196)" fill-opacity="0.93" stroke="#6d80bb" stroke-width="0.8"/>
<text x="238.4" y="55.5" text-anchor="middle" font-size="10.3" fill="#111" stroke="#111" stroke-width="0.22">NF1 mut</text>
<ellipse cx="274.8" cy="88.6" rx="34.5" ry="16" fill="rgb(241,190,196)" fill-opacity="0.93" stroke="#6d80bb" stroke-width="0.8"/>
<ellipse cx="221.9" cy="90.5" rx="34.7" ry="16.2" fill="rgb(148,217,228)" fill-opacity="0.554" stroke="#6d80bb" stroke-width="0.8"/>
<text x="221.9" y="87.6" text-anchor="middle" font-size="10.3" fill="#111" stroke="#111" stroke-width="0.22">CDKN2</text>
<text x="221.9" y="99.5" text-anchor="middle" font-size="10.3" fill="#111" stroke="#111" stroke-width="0.22">A loss</text>
<text x="274.2" y="85.2" text-anchor="middle" font-size="10.3" fill="#111" stroke="#111" stroke-width="0.22">PTEN</text>
<text x="274.2" y="97.1" text-anchor="middle" font-size="10.3" fill="#111" stroke="#111" stroke-width="0.22">mut</text>
<line x1="238.2" y1="68.2" x2="226.1" y2="72.28" stroke="#111" stroke-width="1.1"/><path d="M222.5 73.5L225.52 70.58L226.68 73.99Z" fill="#111"/>
<line x1="238.2" y1="68.2" x2="252" y2="72.8" stroke="#111" stroke-width="1.1"/><path d="M255.6 74L251.43 74.51L252.56 71.09Z" fill="#111"/>
<path d="M245.7 105.6L254.7 105.6L254.7 114.8L259.2 114.8L250.2 123.8L241.2 114.8L245.7 114.8Z" fill="#c0c0c0" stroke="#7f8fbd" stroke-width="0.8"/>
<text x="248.5" y="137.7" text-anchor="middle" font-size="10.3" fill="#111" stroke="#111" stroke-width="0.22">Infrequent</text>
<text x="248.5" y="149.6" text-anchor="middle" font-size="10.3" fill="#111" stroke="#111" stroke-width="0.22">drivers</text>
<text x="312.5" y="238.7" text-anchor="end" font-size="10.7" font-weight="bold" fill="#111">Group 1</text>
<ellipse cx="579.9" cy="38.9" rx="34.8" ry="16" fill="rgb(241,190,196)" fill-opacity="0.93" stroke="#6d80bb" stroke-width="0.8"/>
<ellipse cx="639.2" cy="39.6" rx="34.7" ry="16.2" fill="rgb(148,217,228)" fill-opacity="0.554" stroke="#6d80bb" stroke-width="0.8"/>
<ellipse cx="607.6" cy="65.4" rx="34.4" ry="16.5" fill="rgb(241,190,196)" fill-opacity="0.93" stroke="#6d80bb" stroke-width="0.8"/>
<text x="580" y="36.1" text-anchor="middle" font-size="10.3" fill="#111" stroke="#111" stroke-width="0.22">PTEN</text>
<text x="580" y="48" text-anchor="middle" font-size="10.3" fill="#111" stroke="#111" stroke-width="0.22">mut</text>
<text x="639.2" y="37.1" text-anchor="middle" font-size="10.3" fill="#111" stroke="#111" stroke-width="0.22">EGFR</text>
<text x="639.2" y="49" text-anchor="middle" font-size="10.3" fill="#111" stroke="#111" stroke-width="0.22">gain</text>
<text x="607.6" y="63.1" text-anchor="middle" font-size="10.3" fill="#111" stroke="#111" stroke-width="0.22">EGFR</text>
<text x="607.6" y="75" text-anchor="middle" font-size="10.3" fill="#111" stroke="#111" stroke-width="0.22">mut</text>
<line x1="609.4" y1="82.4" x2="587.02" y2="96.39" stroke="#111" stroke-width="1.1"/><path d="M583.8 98.4L586.07 94.86L587.98 97.91Z" fill="#111"/>
<line x1="609.4" y1="82.4" x2="632.94" y2="94.83" stroke="#111" stroke-width="1.1"/><path d="M636.3 96.6L632.1 96.42L633.78 93.23Z" fill="#111"/>
<ellipse cx="644" cy="116" rx="34.4" ry="16.5" fill="rgb(241,190,196)" fill-opacity="0.93" stroke="#6d80bb" stroke-width="0.8"/>
<ellipse cx="582.8" cy="116.4" rx="34.4" ry="16.2" fill="rgb(148,217,228)" fill-opacity="0.554" stroke="#6d80bb" stroke-width="0.8"/>
<text x="582.8" y="113.9" text-anchor="middle" font-size="10.3" fill="#111" stroke="#111" stroke-width="0.22">TP53</text>
<text x="582.8" y="125.8" text-anchor="middle" font-size="10.3" fill="#111" stroke="#111" stroke-width="0.22">mut</text>
<text x="643" y="113.9" text-anchor="middle" font-size="10.3" fill="#111" stroke="#111" stroke-width="0.22">NOTCH</text>
<text x="643" y="125.8" text-anchor="middle" font-size="10.3" fill="#111" stroke="#111" stroke-width="0.22">2 mut</text>
<path d="M604.9 138.6L613.9 138.6L613.9 149.6L618.4 149.6L609.4 157.7L600.4 149.6L604.9 149.6Z" fill="#c0c0c0" stroke="#7f8fbd" stroke-width="0.8"/>
<text x="606.7" y="171.4" text-anchor="middle" font-size="10.3" fill="#111" stroke="#111" stroke-width="0.22">Infrequent</text>
<text x="606.7" y="183.3" text-anchor="middle" font-size="10.3" fill="#111" stroke="#111" stroke-width="0.22">drivers</text>
<text x="673" y="238.7" text-anchor="end" font-size="10.7" font-weight="bold" fill="#111">Group 2</text>
<ellipse cx="223.8" cy="285.1" rx="34.5" ry="16.3" fill="rgb(241,190,196)" fill-opacity="0.93" stroke="#6d80bb" stroke-width="0.8"/>
<ellipse cx="282.6" cy="286.1" rx="34.5" ry="16.3" fill="rgb(148,217,228)" fill-opacity="0.554" stroke="#6d80bb" stroke-width="0.8"/>
<text x="223.6" y="282.3" text-anchor="middle" font-size="10.3" fill="#111" stroke="#111" stroke-width="0.22">PTEN</text>
<text x="223.6" y="294.2" text-anchor="middle" font-size="10.3" fill="#111" stroke="#111" stroke-width="0.22">mut</text>
<text x="282.6" y="283.1" text-anchor="middle" font-size="10.3" fill="#111" stroke="#111" stroke-width="0.22">EGFR</text>
<text x="282.6" y="295" text-anchor="middle" font-size="10.3" fill="#111" stroke="#111" stroke-width="0.22">gain</text>
<line x1="225.4" y1="302.4" x2="239.58" y2="317.34" stroke="#111" stroke-width="1.1"/><path d="M242.2 320.1L238.28 318.58L240.89 316.1Z" fill="#111"/>
<line x1="281.6" y1="301.6" x2="262.79" y2="317.63" stroke="#111" stroke-width="1.1"/><path d="M259.9 320.1L261.62 316.26L263.96 319Z" fill="#111"/>
<ellipse cx="252" cy="336.4" rx="34.5" ry="16.3" fill="rgb(241,190,196)" fill-opacity="0.93" stroke="#6d80bb" stroke-width="0.8"/>
<text x="252" y="333.9" text-anchor="middle" font-size="10.3" fill="#111" stroke="#111" stroke-width="0.22">EGFR</text>
<text x="252" y="345.8" text-anchor="middle" font-size="10.3" fill="#111" stroke="#111" stroke-width="0.22">mut</text>
<path d="M248.15 357L256.85 357L256.85 367.5L261.25 367.5L252.5 376.6L243.75 367.5L248.15 367.5Z" fill="#c0c0c0" stroke="#7f8fbd" stroke-width="0.8"/>
<text x="250.5" y="389.1" text-anchor="middle" font-size="10.3" fill="#111" stroke="#111" stroke-width="0.22">Infrequent</text>
<text x="250.5" y="401" text-anchor="middle" font-size="10.3" fill="#111" stroke="#111" stroke-width="0.22">drivers</text>
<text x="314.8" y="492.5" text-anchor="end" font-size="10.7" font-weight="bold" fill="#111">Group 3</text>
<ellipse cx="603.1" cy="312.4" rx="34.9" ry="16.1" fill="rgb(241,190,196)" fill-opacity="0.93" stroke="#6d80bb" stroke-width="0.8"/>
<text x="603.1" y="309.7" text-anchor="middle" font-size="10.3" fill="#111" stroke="#111" stroke-width="0.22">EGFR</text>
<text x="603.1" y="321.6" text-anchor="middle" font-size="10.3" fill="#111" stroke="#111" stroke-width="0.22">mut</text>
<line x1="603.1" y1="329" x2="590.43" y2="332.89" stroke="#111" stroke-width="1.1"/><path d="M586.8 334L589.91 331.16L590.96 334.61Z" fill="#111"/>
<line x1="603.1" y1="329" x2="617.24" y2="332.97" stroke="#111" stroke-width="1.1"/><path d="M620.9 334L616.75 334.71L617.73 331.24Z" fill="#111"/>
<ellipse cx="639.6" cy="348.6" rx="34.5" ry="16.3" fill="rgb(241,190,196)" fill-opacity="0.93" stroke="#6d80bb" stroke-width="0.8"/>
<ellipse cx="587.4" cy="351.1" rx="34.5" ry="16.2" fill="rgb(148,217,228)" fill-opacity="0.554" stroke="#6d80bb" stroke-width="0.8"/>
<text x="586.8" y="347.7" text-anchor="middle" font-size="10.3" fill="#111" stroke="#111" stroke-width="0.22">EGFR</text>
<text x="586.8" y="359.6" text-anchor="middle" font-size="10.3" fill="#111" stroke="#111" stroke-width="0.22">gain</text>
<text x="639.2" y="346.2" text-anchor="middle" font-size="10.3" fill="#111" stroke="#111" stroke-width="0.22">GIGYF2</text>
<text x="639.2" y="358.1" text-anchor="middle" font-size="10.3" fill="#111" stroke="#111" stroke-width="0.22">mut</text>
<path d="M611.6 366L620.8 366L620.8 376.1L625 376.1L616.2 385L607.4 376.1L611.6 376.1Z" fill="#c0c0c0" stroke="#7f8fbd" stroke-width="0.8"/>
<text x="613.6" y="397.9" text-anchor="middle" font-size="10.3" fill="#111" stroke="#111" stroke-width="0.22">Infrequent</text>
<text x="613.6" y="409.8" text-anchor="middle" font-size="10.3" fill="#111" stroke="#111" stroke-width="0.22">drivers</text>
<text x="673.6" y="492.5" text-anchor="end" font-size="10.7" font-weight="bold" fill="#111">Group 4</text>
</svg></body></html>
